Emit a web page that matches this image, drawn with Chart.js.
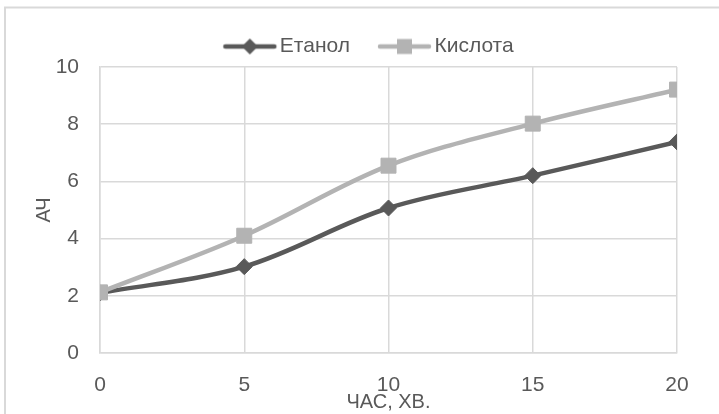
<!DOCTYPE html>
<html lang="uk">
<head>
<meta charset="utf-8">
<title>АЧ — ЧАС, ХВ.</title>
<script src="https://cdn.jsdelivr.net/npm/chart.js@4.4.1/dist/chart.umd.min.js"></script>
<style>
  html, body { margin: 0; padding: 0; background: #ffffff; }
  #wrap { width: 719px; height: 414px; position: relative; }
</style>
</head>
<body>
<div id="wrap"><canvas id="chart" width="719" height="414"></canvas></div>
<script>
// Time, minutes
const timeMinutes = [0, 5, 10, 15, 20];
// Series values
const ethanolValues = [2.1, 3.02, 5.07, 6.2, 7.38];
const acidValues = [2.12, 4.1, 6.55, 8.02, 9.21];
const seriesNames = ['Етанол', 'Кислота'];
const xTitle = 'ЧАС, ХВ.';
const yTitle = 'АЧ';

const DARK = '#595959';
const LIGHT = '#b3b3b3';
const GRID = '#d9d9d9';
const FONT = "'Liberation Sans', Arial, sans-serif";

const toPoints = vals => timeMinutes.map((t, i) => ({ x: t, y: vals[i] }));

// Legend glyph: a short line with the series marker in the middle.
function legendGlyph(color, shape) {
  const W = 104, H = 22, a = 38, b = 13;
  const c = document.createElement('canvas');
  c.width = W; c.height = H;
  const g = c.getContext('2d');
  const cy = H / 2;
  g.strokeStyle = color;
  g.lineWidth = 4.5;
  g.lineCap = 'round';
  g.beginPath();
  g.moveTo(a + 2, cy);
  g.lineTo(W - b - 2, cy);
  g.stroke();
  const cx = (a + W - b) / 2;
  g.fillStyle = color;
  g.beginPath();
  if (shape === 'diamond') {
    const r = 8;
    g.moveTo(cx, cy - r); g.lineTo(cx + r, cy); g.lineTo(cx, cy + r); g.lineTo(cx - r, cy);
    g.closePath();
  } else {
    const s = 7.5;
    g.rect(cx - s, cy - s, 2 * s, 2 * s);
  }
  g.fill();
  return c;
}
const glyphs = [legendGlyph(DARK, 'diamond'), legendGlyph(LIGHT, 'square')];

// Light frame around the chart; legend centred across the full width
const framePlugin = {
  id: 'frame',
  beforeDraw(chart) {
    if (chart.legend) {
      chart.legend.right = chart.width;
      chart.legend.width = chart.width - chart.legend.left;
    }
    const ctx = chart.ctx;
    ctx.save();
    ctx.strokeStyle = '#d9d9d9';
    ctx.lineWidth = 2;
    ctx.strokeRect(5, 7.5, 730, 430);
    ctx.restore();
  }
};

new Chart(document.getElementById('chart'), {
  type: 'line',
  data: {
    datasets: [
      {
        label: seriesNames[0],
        data: toPoints(ethanolValues),
        borderColor: DARK,
        backgroundColor: DARK,
        borderWidth: 4.5,
        pointStyle: 'rectRot',
        pointRadius: 8,
        pointBorderWidth: 1,
        tension: 0.35,
        fill: false,
        order: 1
      },
      {
        label: seriesNames[1],
        data: toPoints(acidValues),
        borderColor: LIGHT,
        backgroundColor: LIGHT,
        borderWidth: 4.5,
        pointStyle: 'rect',
        pointRadius: 10.6,
        pointBorderWidth: 1,
        tension: 0.35,
        fill: false,
        order: 0
      }
    ]
  },
  options: {
    responsive: false,
    animation: false,
    events: [],
    layout: { padding: { top: 26, left: 0, right: 42, bottom: 0 } },
    plugins: {
      tooltip: { enabled: false },
      legend: {
        position: 'top',
        labels: {
          usePointStyle: true,
          pointStyleWidth: 64,
          padding: 10,
          color: DARK,
          font: { family: FONT, size: 21 },
          generateLabels(chart) {
            const items = Chart.defaults.plugins.legend.labels.generateLabels(chart);
            items.sort((p, q) => p.datasetIndex - q.datasetIndex);
            items.forEach(it => { it.pointStyle = glyphs[it.datasetIndex]; });
            return items;
          }
        }
      }
    },
    scales: {
      x: {
        type: 'linear',
        min: 0,
        max: 20,
        ticks: {
          stepSize: 5,
          padding: 20,
          color: DARK,
          font: { family: FONT, size: 21 }
        },
        grid: { color: GRID, lineWidth: 1.5, drawTicks: false },
        border: { color: GRID, width: 1.5 },
        title: {
          display: true,
          text: xTitle,
          color: DARK,
          font: { family: FONT, size: 20 },
          padding: { top: 0, bottom: 0 }
        },
        afterFit(scale) { scale.height = 61; }
      },
      y: {
        min: 0,
        max: 10,
        ticks: {
          stepSize: 2,
          padding: 21,
          color: DARK,
          font: { family: FONT, size: 21 }
        },
        grid: { color: GRID, lineWidth: 1.5, drawTicks: false },
        border: { color: GRID, width: 1.5 },
        title: {
          display: true,
          text: yTitle,
          color: DARK,
          font: { family: FONT, size: 20 },
          padding: { top: 32, bottom: 0 }
        },
        afterFit(scale) { scale.width = 100; }
      }
    }
  },
  plugins: [framePlugin]
});
</script>
</body>
</html>
